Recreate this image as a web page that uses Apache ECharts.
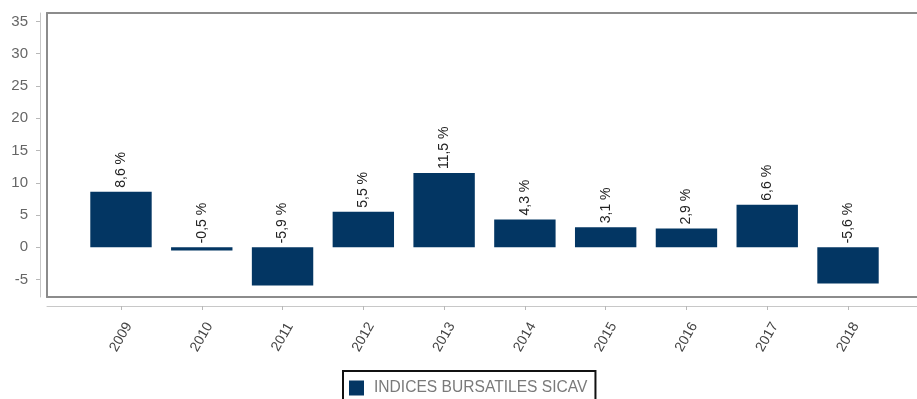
<!DOCTYPE html>
<html>
<head>
<meta charset="utf-8">
<script src="https://cdn.jsdelivr.net/npm/echarts@6/dist/echarts.min.js"></script>
<style>
  html, body { margin: 0; padding: 0; background: #fff; }
  #chart { width: 917px; height: 399px; }
</style>
</head>
<body>
<div id="chart"></div>
<script>
// Annual performance of the stock-index SICAV category
const years = ['2009', '2010', '2011', '2012', '2013', '2014', '2015', '2016', '2017', '2018'];
const returns = [8.6, -0.5, -5.9, 5.5, 11.5, 4.3, 3.1, 2.9, 6.6, -5.6];
const yTicks = [-5, 0, 5, 10, 15, 20, 25, 30, 35];
const seriesName = 'INDICES BURSATILES SICAV';

const yMin = -7.7;
const yMax = 36.3;
const font = 'Liberation Sans, Arial, sans-serif';
const navy = '#033663';
const frameLine = { show: true, onZero: false, lineStyle: { color: '#8c8c8c', width: 2 } };
const lightLine = { show: true, onZero: false, lineStyle: { color: '#c8c8c8', width: 1 } };
const bare = { axisTick: { show: false }, axisLabel: { show: false }, splitLine: { show: false } };

const chart = echarts.init(document.getElementById('chart'));

const fmt = v => v.toFixed(1).replace('.', ',') + ' %';

chart.setOption({
  animation: false,
  grid: [
    // value scale and category baseline, set a little apart from the frame
    { left: 47, right: 0, top: 13, bottom: 102 },
    // band area that holds the yearly bars
    { left: 80.6, right: 28.6, top: 13, bottom: 102 },
    // open frame: left, top and bottom edges
    { left: 47, right: 0, top: 13, bottom: 102 }
  ],
  xAxis: [
    Object.assign({ gridIndex: 0, type: 'value', min: 0, max: 1, position: 'bottom', offset: 9, axisLine: lightLine }, bare),
    {
      gridIndex: 1, type: 'category', data: years, offset: 9,
      axisLine: { show: false, onZero: false },
      axisTick: { show: true, alignWithLabel: true, length: 4, lineStyle: { color: '#b8b8b8' } },
      axisLabel: { rotate: 60, margin: 31, align: 'center', verticalAlign: 'middle', color: '#444', fontFamily: font, fontSize: 14 }
    },
    Object.assign({ gridIndex: 2, type: 'value', min: 0, max: 1, position: 'bottom', offset: 0, axisLine: frameLine }, bare),
    Object.assign({ gridIndex: 2, type: 'value', min: 0, max: 1, position: 'top', offset: 0, axisLine: frameLine }, bare)
  ],
  yAxis: [
    {
      gridIndex: 0, type: 'value', min: yMin, max: yMax, position: 'left', offset: 7,
      axisLine: lightLine,
      axisTick: { show: true, length: 4, customValues: yTicks, lineStyle: { color: '#b8b8b8' } },
      axisLabel: { customValues: yTicks, margin: 12, color: '#666', fontFamily: font, fontSize: 15 },
      splitLine: { show: false }
    },
    {
      gridIndex: 1, type: 'value', min: yMin, max: yMax, show: false, splitLine: { show: false }
    },
    Object.assign({ gridIndex: 2, type: 'value', min: yMin, max: yMax, position: 'left', offset: 0, axisLine: frameLine }, bare)
  ],
  legend: {
    data: [seriesName],
    left: 343, top: 371,
    orient: 'horizontal',
    icon: 'rect',
    itemWidth: 15, itemHeight: 15,
    padding: [9, 8, 9, 6],
    borderColor: '#111', borderWidth: 2,
    textStyle: { color: '#7a7a7a', fontFamily: font, fontSize: 15.6, padding: [0, 0, 0, 5] }
  },
  series: [{
    name: seriesName,
    type: 'bar',
    xAxisIndex: 1, yAxisIndex: 1,
    barWidth: '76%',
    data: returns,
    itemStyle: { color: navy },
    label: {
      show: true,
      position: 'top',
      rotate: 90,
      align: 'left',
      verticalAlign: 'middle',
      distance: 4,
      color: '#222',
      fontFamily: font,
      fontSize: 14,
      formatter: p => fmt(p.value)
    }
  }]
});
</script>
</body>
</html>
